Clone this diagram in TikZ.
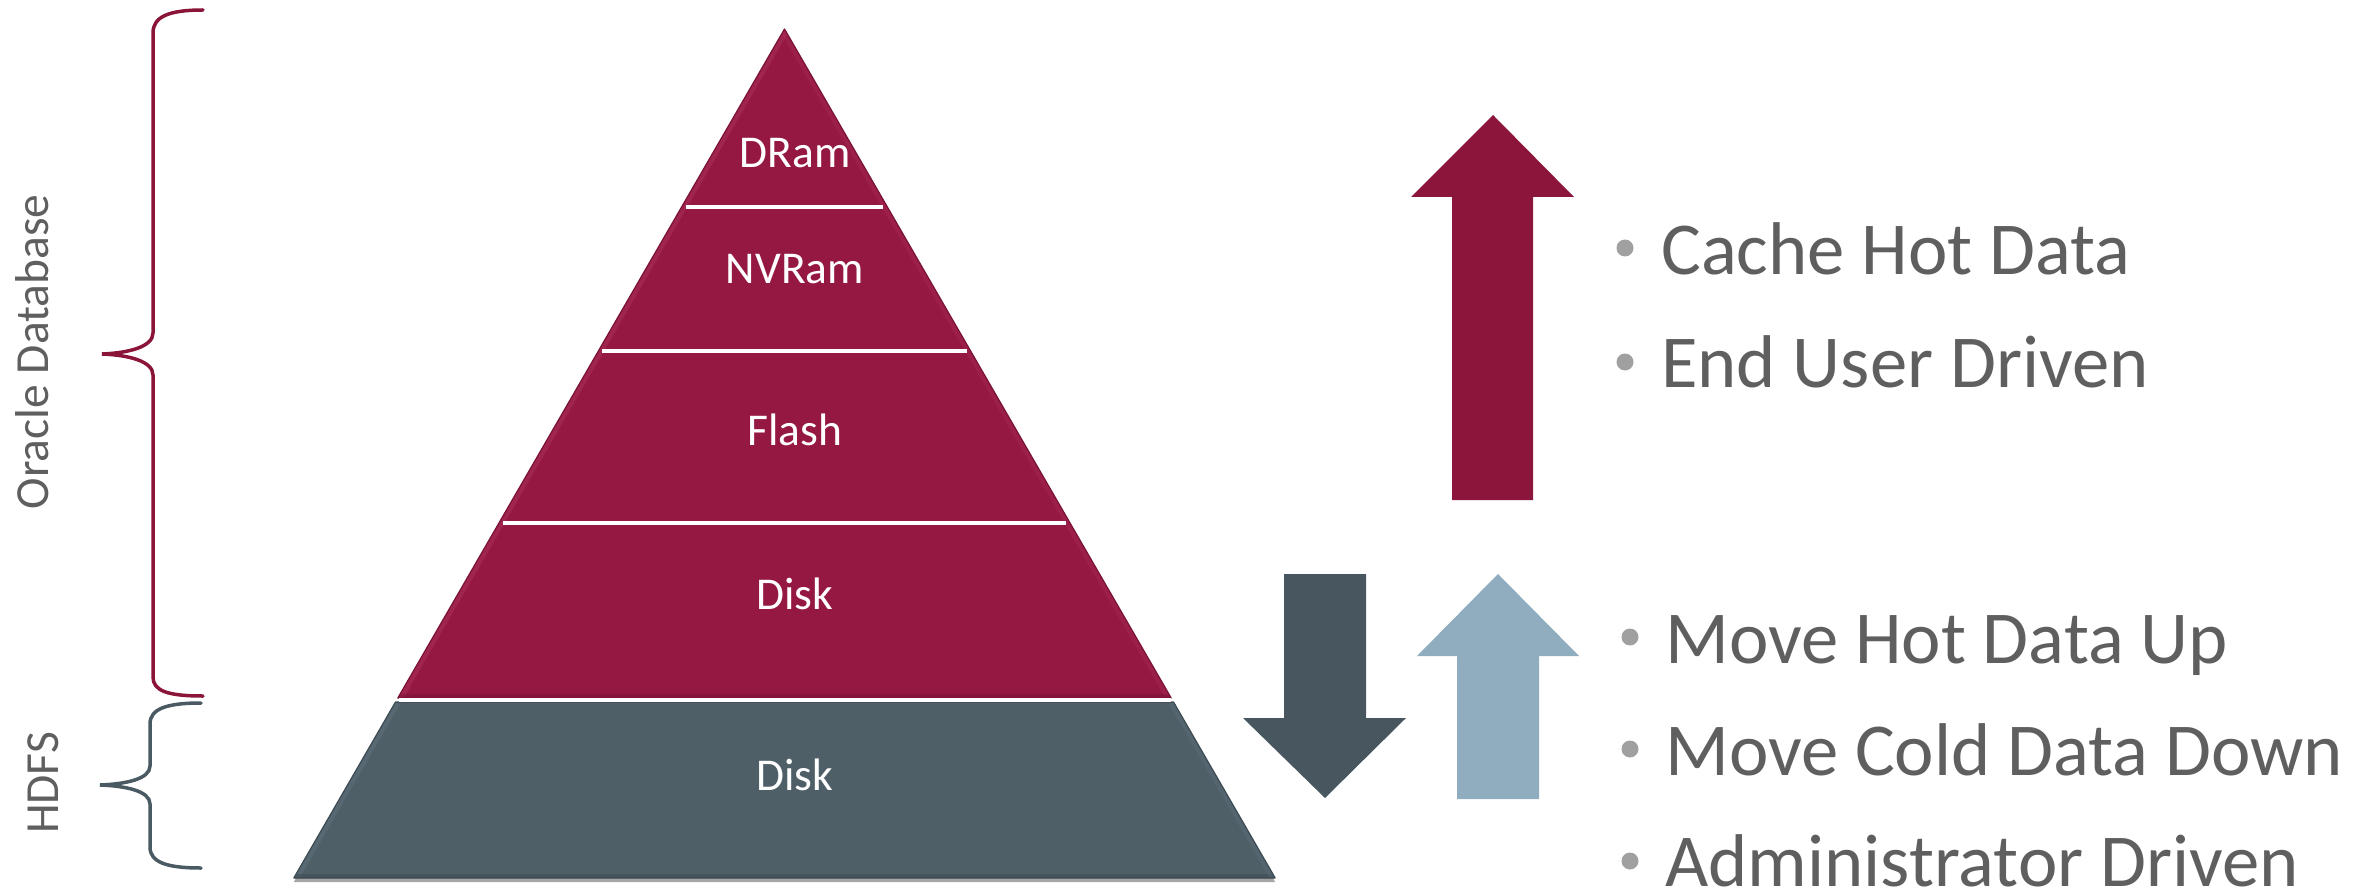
\documentclass[tikz,border=0pt]{standalone}
\usepackage{fontspec}
\setmainfont{Carlito}
\usetikzlibrary{shadows}

\definecolor{tierred}{HTML}{951842}
\definecolor{tierredlight}{HTML}{A9305A}
\definecolor{tierreddark}{HTML}{7A1236}
\definecolor{tiergrey}{HTML}{4F5F68}
\definecolor{tiergreylight}{HTML}{627580}
\definecolor{tiergreydark}{HTML}{3C4A52}
\definecolor{hotred}{HTML}{8B153B}
\definecolor{colddown}{HTML}{47565F}
\definecolor{warmup}{HTML}{8FADBF}
\definecolor{braceRed}{HTML}{8B1538}
\definecolor{braceGrey}{HTML}{4A5A62}
\definecolor{labelgrey}{HTML}{5F5F5F}
\definecolor{dotgrey}{HTML}{A0A0A0}

\tikzset{
  tierlabel/.style={text=white, inner sep=0pt, anchor=base,
    font=\fontsize{45.5}{54}\selectfont},
  sidelabel/.style={text=labelgrey, inner sep=0pt, anchor=base, rotate=90,
    font=\fontsize{47.5}{56}\selectfont},
  bullettext/.style={text=labelgrey, inner sep=0pt, anchor=base west,
    font=\fontsize{74.7}{88}\selectfont},
  bulletdot/.style={fill=dotgrey, draw=none},
  separator/.style={draw=white, line width=4pt},
  bracestroke/.style={line width=3.5pt, line cap=round, fill=none},
  blockarrow/.style={draw=none},
}

\begin{document}
\begin{tikzpicture}[x=1pt,y=-1pt]
\useasboundingbox (0,0) rectangle (2369,893);

% ---------- pyramid corners ----------
\coordinate (apex) at (784.5,29);
\coordinate (redL) at (397.8,698);
\coordinate (redR) at (1171.2,698);
\coordinate (hdfsTL) at (395.5,702);
\coordinate (hdfsTR) at (1173.5,702);
\coordinate (baseL) at (293.8,878);
\coordinate (baseR) at (1275.2,878);

% HDFS tier (grey trapezoid) with a soft shadow underneath
\fill[tiergrey, drop shadow={shadow xshift=0pt, shadow yshift=-4pt, opacity=0.35, fill=black}]
  (hdfsTL) -- (hdfsTR) -- (baseR) -- (baseL) -- cycle;
\begin{scope}
  \clip (hdfsTL) -- (hdfsTR) -- (baseR) -- (baseL) -- cycle;
  \draw[tiergreylight, line width=10pt, opacity=0.45] (hdfsTL) -- (baseL);
  \draw[tiergreydark, line width=8pt, opacity=0.5] (baseL) -- (baseR);
  \draw[tiergreylight, line width=10pt, opacity=0.3] (hdfsTR) -- (baseR);
\end{scope}
\draw[tiergreydark, line width=1.2pt, line join=round]
  (hdfsTL) -- (hdfsTR) -- (baseR) -- (baseL) -- cycle;

% Oracle tiers (red triangle)
\fill[tierred] (apex) -- (redR) -- (redL) -- cycle;
\begin{scope}
  \clip (apex) -- (redR) -- (redL) -- cycle;
  \draw[tierredlight, line width=10pt, opacity=0.5] (apex) -- (redL);
  \draw[tierredlight, line width=10pt, opacity=0.3] (apex) -- (redR);
  \draw[tierreddark, line width=8pt, opacity=0.5] (redL) -- (redR);
\end{scope}
\draw[tierreddark, line width=1.2pt, line join=round] (apex) -- (redR) -- (redL) -- cycle;

% white separators between tiers
\coordinate (s1L) at (685.6,207);   \coordinate (s1R) at (883.4,207);
\coordinate (s2L) at (602.4,351);   \coordinate (s2R) at (966.6,351);
\coordinate (s3L) at (503.3,522.5); \coordinate (s3R) at (1065.7,522.5);
\coordinate (s4L) at (398.5,700);   \coordinate (s4R) at (1170.5,700);
\draw[separator] (s1L) -- (s1R);
\draw[separator] (s2L) -- (s2R);
\draw[separator] (s3L) -- (s3R);
\draw[separator] (s4L) -- (s4R);

% tier names
\node[tierlabel] (dram)  at (795,168)   {DRam};
\node[tierlabel] (nvram) at (795,283.5) {NVRam};
\node[tierlabel] (flash) at (795,445)   {Flash};
\node[tierlabel] (disk)  at (795,609.5) {Disk};
\node[tierlabel] (hdisk) at (795,790)   {Disk};

% ---------- braces and their labels ----------
\coordinate (obTop) at (203,10);
\coordinate (obTip) at (102,354);
\coordinate (obBot) at (203,696);
\draw[bracestroke, braceRed]
  (obTop) .. controls (168,10) and (153,17) .. (153,33)
  -- (153,333) .. controls (153,347) and (128,353) .. (obTip)
  .. controls (128,355) and (153,361) .. (153,375)
  -- (153,677) .. controls (153,691) and (168,696) .. (obBot);

\coordinate (hbTop) at (201,703);
\coordinate (hbTip) at (100,785);
\coordinate (hbBot) at (201,868);
\draw[bracestroke, braceGrey]
  (hbTop) .. controls (166,703) and (150,709) .. (150,724)
  -- (150,766) .. controls (150,779) and (126,784) .. (hbTip)
  .. controls (126,786) and (150,791) .. (150,804)
  -- (150,847) .. controls (150,862) and (166,868) .. (hbBot);

\node[sidelabel] (oracle) at (48,352) {Oracle Database};
\node[sidelabel] (hdfs)   at (58,783)   {HDFS};

% ---------- block arrows ----------
\fill[hotred, blockarrow]
  (1452,500) -- (1452,197) -- (1411,197) -- (1493,115) -- (1574,197)
  -- (1533,197) -- (1533,500) -- cycle;
\fill[colddown, blockarrow]
  (1284,574) -- (1366,574) -- (1366,718) -- (1406,718) -- (1325,798)
  -- (1243,718) -- (1284,718) -- cycle;
\fill[warmup, blockarrow]
  (1457,799) -- (1457,656) -- (1417,656) -- (1498,574) -- (1579,656)
  -- (1539,656) -- (1539,799) -- cycle;

% ---------- bullet lists ----------
\fill[bulletdot] (1625,248) circle (8.5);
\fill[bulletdot] (1625,362) circle (8.5);
\node[bullettext] (cache) at (1661,275) {Cache Hot Data};
\node[bullettext] (enduser) at (1661,387) {End User Driven};

\fill[bulletdot] (1630,637) circle (8.5);
\fill[bulletdot] (1630,749) circle (8.5);
\fill[bulletdot] (1630,861) circle (8.5);
\node[bullettext] (hotup) at (1665,663) {Move Hot Data Up};
\node[bullettext] (colddn) at (1665,775) {Move Cold Data Down};
\node[bullettext] (admin) at (1665,886) {Administrator Driven};
\end{tikzpicture}
\end{document}
